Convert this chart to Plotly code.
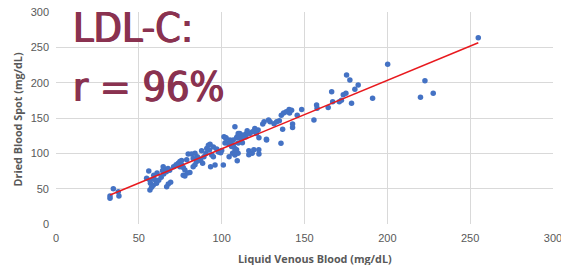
import plotly.graph_objects as go

venous = [32.6, 32.6, 34.6, 37.6, 38.0,
          56.0, 54.7, 56.7, 57.0, 56.7, 58.7, 57.7, 59.0, 60.7, 62.0, 59.5,
          64.7, 65.7, 64.3, 65.0, 66.6, 67.6, 68.6, 67.8, 69.2, 66.8,
          73.8, 74.8, 75.8, 74.8, 76.8, 75.8, 77.8, 78.9, 76.8, 77.8, 79.4, 80.8,
          79.8, 81.8, 83.9, 82.8, 84.9, 83.9, 82.8, 85.3, 87.3, 87.9, 89.3, 90.5,
          91.0, 92.0, 93.0, 92.6, 95.0, 94.0, 95.0, 93.3, 96.0, 98.0, 99.4, 101.0,
          101.4, 102.6, 104.0, 105.0, 106.0, 107.0, 108.0, 106.6, 108.0, 109.4,
          109.9, 109.4, 110.9, 111.9, 115.0, 118.4, 122.5, 122.5, 127.0, 116.4,
          122.0, 121.0, 120.0, 118.6, 117.0, 115.4, 114.6, 113.0, 111.4, 110.0,
          108.0, 109.0, 107.0, 105.4, 102.6, 102.0, 109.0, 108.0, 110.0, 119.4,
          122.4, 116.4, 127.1, 125.6, 124.8, 128.3, 129.2, 131.6, 133.2, 134.8,
          136.8, 135.8, 136.0, 137.4, 139.0, 141.0, 140.7, 142.2, 142.8, 142.8,
          145.6, 148.3, 155.7, 157.3, 157.6, 164.3, 166.4, 167.0, 171.0, 172.3,
          173.4, 175.0, 175.4, 177.4, 178.4, 180.4, 182.4, 191.1, 200.2, 220.0,
          222.7, 227.7, 254.9,
          86.0, 88.5, 97.0, 100.0, 112.5, 104.5, 71.0, 72.5, 61.0, 63.5]

dried = [36.4, 39.6, 50.0, 45.7, 39.6,
         75.0, 64.6, 62.0, 57.5, 48.0, 55.0, 52.0, 69.0, 57.5, 62.0, 63.0,
         81.0, 77.0, 75.3, 70.6, 74.0, 78.6, 76.0, 56.6, 59.0, 52.8,
         86.0, 88.4, 83.7, 81.0, 80.0, 90.0, 76.4, 91.0, 69.0, 68.0, 72.0, 73.0,
         99.0, 99.0, 100.0, 92.7, 88.4, 84.0, 81.0, 95.0, 90.0, 103.8, 95.0, 99.6,
         107.0, 111.3, 113.0, 104.7, 109.0, 97.5, 95.0, 81.0, 83.5, 102.0, 101.0, 83.5,
         123.6, 121.0, 114.0, 118.9, 109.5, 111.8, 107.0, 100.0, 97.6, 89.6,
         100.0, 123.6, 128.0, 119.8, 128.0, 100.0, 99.0, 122.0, 120.0, 98.0,
         133.0, 128.0, 135.0, 130.5, 128.0, 132.0, 123.6, 126.0, 121.4, 128.0,
         137.7, 122.0, 118.9, 116.6, 122.0, 114.5, 105.0, 102.7, 114.5, 105.0,
         105.0, 103.6, 118.9, 144.8, 141.5, 147.0, 144.8, 142.0, 144.8, 146.0,
         134.0, 114.2, 154.0, 157.0, 159.0, 157.0, 162.0, 161.0, 141.5, 136.5,
         154.0, 162.0, 147.0, 168.4, 163.7, 165.0, 187.2, 173.0, 173.0, 175.0,
         183.0, 185.0, 210.8, 203.8, 170.8, 190.6, 196.7, 177.8, 226.0, 179.3,
         202.8, 185.0, 263.6,
         93.0, 86.0, 106.0, 104.0, 115.0, 95.0, 81.0, 84.0, 72.0, 66.0]

trend_x = [32.6, 254.9]
trend_y = [41.0, 256.5]

x_ticks = [0, 50, 100, 150, 200, 250, 300]
y_ticks = [0, 50, 100, 150, 200, 250, 300]

W, H = 561, 265
L, R, T, B = 56, 8, 12, 41
PW, PH = W - L - R, H - T - B


def px_x(page_x):
    return (page_x - L) / PW


def px_y(page_y):
    return (T + PH - page_y) / PH


fig = go.Figure()
fig.add_trace(go.Scatter(x=venous, y=dried, mode="markers",
                         marker=dict(color="#4472C4", size=5.5, line=dict(width=0)),
                         showlegend=False))
fig.add_trace(go.Scatter(x=trend_x, y=trend_y, mode="lines",
                         line=dict(color="#E8191E", width=1.5), showlegend=False))

axis_common = dict(showgrid=True, gridcolor="#D9D9D9", gridwidth=1, zeroline=False,
                   showline=False, ticks="", automargin=False, ticklabeloverflow="allow",
                   tickfont=dict(family="Liberation Sans, Arial", size=11, color="#595959"))
fig.update_xaxes(range=[0, 300], tickvals=x_ticks, ticklabelstandoff=6, **axis_common)
fig.update_yaxes(range=[0, 300], tickvals=y_ticks, ticklabelstandoff=6, **axis_common)

title_font = dict(family="Open Sans, Liberation Sans", size=10.8, color="#595959")
fig.add_annotation(x=px_x(315), y=px_y(258), xref="paper", yref="paper",
                   text="<b>Liquid Venous Blood (mg/dL)</b>", showarrow=False,
                   xanchor="center", yanchor="middle", font=title_font)
fig.add_annotation(x=px_x(16.5), y=px_y(120), xref="paper", yref="paper",
                   text="<b>Dried Blood Spot (mg/dL)</b>", showarrow=False, textangle=-90,
                   xanchor="center", yanchor="middle", font=title_font)

big_color = "#8A3250"
big_font = dict(family="DejaVu Sans Condensed", size=41, color=big_color,
                shadow=f"0.7px 0 0 {big_color}, -0.7px 0 0 {big_color}")
fig.add_annotation(x=px_x(71), y=px_y(28), xref="paper", yref="paper",
                   text="LDL-C:", showarrow=False, xanchor="left", yanchor="middle",
                   font=big_font)
fig.add_annotation(x=px_x(71), y=px_y(87), xref="paper", yref="paper",
                   text="r = 96%", showarrow=False, xanchor="left", yanchor="middle",
                   font=big_font)

fig.update_layout(width=W, height=H, margin=dict(l=L, r=R, t=T, b=B),
                  plot_bgcolor="white", paper_bgcolor="white")

fig.write_html("out.html", config={"displayModeBar": False},
               post_script="document.body.style.margin='0';document.body.style.overflow='hidden';")
